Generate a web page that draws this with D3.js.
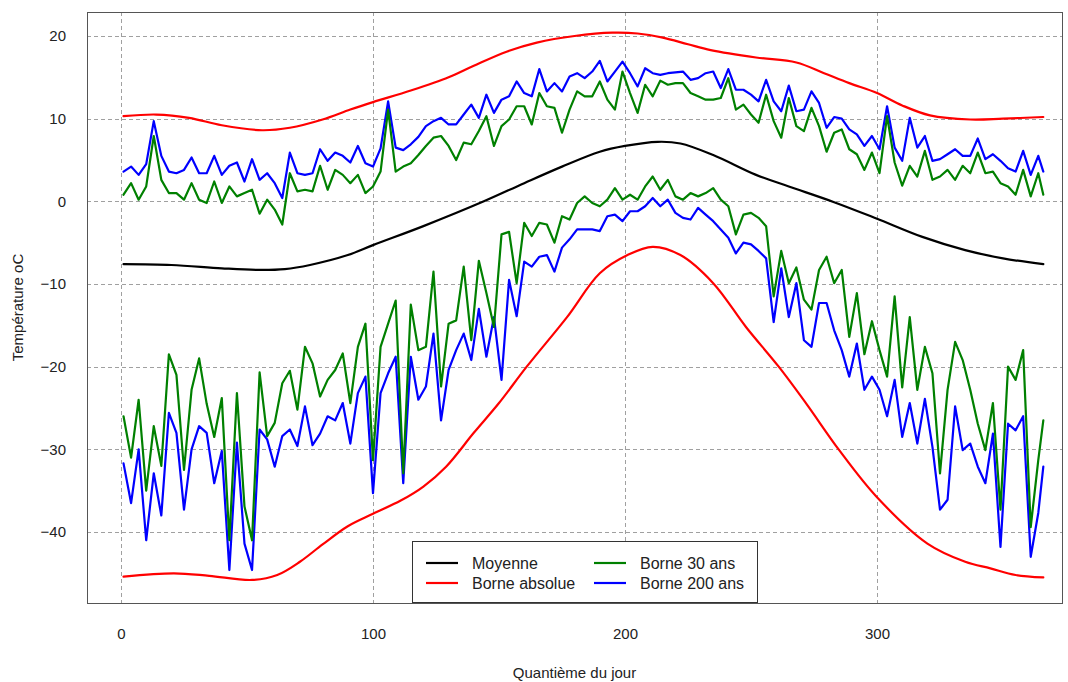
<!DOCTYPE html>
<html>
<head>
<meta charset="utf-8">
<script src="https://cdn.jsdelivr.net/npm/d3@7"></script>
<style>
  body { margin: 0; background: #fff; }
  text { font-family: "Liberation Sans", Arial, sans-serif; fill: #222; }
</style>
</head>
<body>
<svg id="chart" width="1068" height="682"></svg>
<script>
// Jours échantillonnés (tous les 3 jours) pour les bornes observées
const jours = d3.range(1, 365, 3).concat([366]);

// Borne 200 ans, maximum
const borne200Haut = [
  3.6, 4.2, 3.2, 4.5, 9.7, 5.5, 3.6, 3.4, 3.8, 5.3,
  3.4, 3.4, 5.5, 3.2, 4.3, 4.7, 2.4, 5.1, 2.6, 3.4,
  2.2, 0.4, 5.9, 3.4, 3.2, 3.4, 6.3, 4.9, 5.9, 5.5,
  4.7, 6.7, 4.6, 4.2, 6.4, 12.1, 6.5, 6.2, 6.9, 7.8,
  9.1, 9.7, 10.1, 9.3, 9.3, 10.5, 11.7, 10.1, 12.9, 10.7,
  12.3, 12.7, 14.5, 13.1, 12.7, 16.0, 13.3, 14.3, 13.3, 15.1,
  15.5, 14.9, 15.7, 17.0, 14.5, 15.7, 16.9, 15.5, 13.9, 16.1,
  15.5, 15.3, 15.5, 15.6, 15.7, 14.7, 14.9, 15.5, 15.7, 13.7,
  16.0, 13.5, 13.5, 12.9, 12.1, 14.7, 12.1, 10.9, 14.0, 10.9,
  11.1, 13.3, 11.9, 8.9, 10.2, 10.0, 8.7, 8.1, 6.7, 7.9,
  6.3, 11.5, 6.5, 4.9, 10.1, 6.5, 7.9, 4.9, 5.1, 5.7,
  6.3, 5.5, 5.5, 7.6, 5.1, 5.7, 4.9, 4.0, 3.6, 6.1,
  3.2, 5.5, 3.6
];

// Borne 30 ans, maximum
const borne30Haut = [
  0.8, 2.2, 0.2, 1.8, 7.9, 2.6, 1.0, 1.0, 0.2, 2.2,
  0.2, -0.2, 2.4, -0.2, 1.8, 0.6, 1.0, 1.4, -1.5, 0.2,
  -1.0, -2.8, 3.4, 1.2, 1.4, 1.2, 4.3, 1.4, 3.8, 3.2,
  2.2, 3.2, 1.0, 1.8, 3.6, 11.1, 3.6, 4.2, 4.6, 5.6,
  6.7, 7.7, 7.9, 6.7, 5.0, 7.1, 6.9, 8.5, 10.3, 6.7,
  9.1, 9.9, 11.5, 11.5, 9.3, 13.1, 11.5, 11.3, 8.3, 11.1,
  13.3, 12.7, 12.7, 14.5, 12.3, 11.1, 15.7, 13.1, 10.7, 14.1,
  12.7, 14.6, 14.1, 14.3, 14.3, 13.1, 12.7, 12.3, 12.3, 12.5,
  14.9, 11.1, 11.7, 10.5, 9.5, 12.9, 9.7, 7.7, 12.5, 9.1,
  8.5, 11.3, 9.1, 6.0, 8.3, 8.7, 6.3, 5.7, 3.8, 5.9,
  3.4, 10.3, 4.7, 1.9, 4.3, 3.0, 6.1, 2.6, 3.0, 3.8,
  2.6, 4.3, 3.4, 5.9, 3.4, 3.6, 2.2, 1.8, 0.8, 3.8,
  0.6, 3.4, 0.8
];

// Borne 30 ans, minimum
const borne30Bas = [
  -26.0, -31.0, -24.0, -35.0, -27.2, -32.0, -18.5, -21.0, -32.5, -22.8,
  -19.0, -24.5, -28.5, -23.8, -41.0, -23.2, -36.9, -41.0, -20.7, -28.4,
  -26.8, -22.0, -20.5, -25.2, -17.6, -19.6, -23.6, -21.6, -20.4, -18.4,
  -24.4, -17.6, -14.8, -31.3, -17.6, -14.8, -12.0, -32.9, -12.5, -18.0,
  -17.6, -8.5, -22.4, -14.8, -14.4, -7.9, -16.8, -7.2, -11.1, -15.2,
  -4.0, -3.7, -9.9, -2.6, -4.2, -2.6, -2.8, -5.0, -1.8, -2.2,
  -0.2, 0.6, -0.2, -0.6, 0.2, 1.6, 0.2, 0.8, 0.2, 1.8,
  3.0, 1.4, 2.6, 0.6, 0.2, 1.0, 0.6, 1.0, 1.6, 0.2,
  -0.6, -4.0, -1.6, -1.4, -2.0, -3.0, -11.5, -6.0, -9.9, -8.0,
  -11.9, -13.1, -8.3, -6.7, -9.9, -8.3, -16.4, -11.1, -18.5, -14.5,
  -18.0, -21.2, -11.5, -22.5, -14.0, -22.8, -17.6, -20.8, -32.9, -22.8,
  -17.0, -19.2, -22.8, -26.9, -30.1, -24.4, -37.3, -20.0, -21.6, -18.0,
  -39.4, -31.3, -26.5
];

// Borne 200 ans, minimum
const borne200Bas = [
  -31.7, -36.5, -30.0, -41.0, -32.9, -38.0, -25.6, -28.0, -37.3, -30.0,
  -27.2, -28.0, -34.1, -30.2, -44.6, -29.2, -41.4, -44.6, -27.6, -28.8,
  -32.1, -28.4, -27.6, -29.6, -24.8, -29.5, -28.1, -26.0, -26.5, -24.4,
  -29.3, -23.2, -21.2, -35.3, -23.2, -20.8, -18.8, -34.1, -18.8, -24.0,
  -22.4, -16.0, -26.5, -20.4, -18.0, -16.0, -19.2, -13.0, -18.8, -14.0,
  -21.6, -9.5, -13.9, -7.3, -7.9, -6.7, -6.5, -8.5, -5.6, -4.6,
  -3.4, -3.4, -3.4, -3.6, -1.8, -1.6, -2.4, -1.2, -1.2, -0.6,
  0.4, -0.6, 0.2, -1.4, -2.0, -2.2, -0.8, -1.6, -2.4, -3.4,
  -4.4, -6.3, -5.0, -5.2, -6.0, -6.9, -14.6, -8.1, -14.0, -9.9,
  -16.8, -17.6, -12.3, -12.3, -15.6, -18.0, -21.2, -17.2, -22.8, -21.2,
  -22.8, -26.0, -21.6, -28.5, -24.4, -29.3, -23.9, -29.7, -37.3, -36.1,
  -24.8, -30.1, -29.3, -32.1, -34.1, -28.1, -41.8, -26.9, -27.7, -26.0,
  -43.0, -37.7, -32.1
];

// Température moyenne (courbe lisse)
const joursMoyenne = [1, 20, 40, 55, 65, 75, 90, 100, 120, 144, 160, 175, 190, 200, 213, 222, 235, 252, 265, 283, 300, 318, 335, 350, 366];
const moyenne = [-7.6, -7.7, -8.1, -8.3, -8.2, -7.7, -6.5, -5.3, -3.0, 0.0, 2.2, 4.2, 6.0, 6.7, 7.2, 7.0, 5.6, 3.2, 1.8, -0.1, -2.1, -4.3, -5.9, -6.9, -7.6];

// Bornes absolues (courbes lisses)
const joursAbsHaut = [1, 14, 27, 40, 56, 67, 80, 91, 100, 115, 130, 140, 153, 165, 180, 195, 205, 215, 225, 234, 252, 268, 279, 289, 300, 310, 321, 337, 350, 366];
const absHaut = [10.3, 10.5, 10.1, 9.2, 8.6, 8.9, 9.9, 11.1, 12.0, 13.4, 15.0, 16.4, 18.1, 19.2, 20.0, 20.4, 20.3, 19.8, 19.0, 18.3, 17.4, 16.8, 15.5, 14.3, 13.1, 11.6, 10.4, 9.9, 10.0, 10.2];
const joursAbsBas = [1, 21, 35, 52, 62, 71, 80, 90, 100, 111, 120, 129, 140, 150, 161, 177, 190, 201, 211, 222, 235, 248, 261, 272, 285, 300, 320, 335, 345, 355, 366];
const absBas = [-45.4, -45.0, -45.3, -45.8, -45.2, -43.6, -41.5, -39.3, -37.8, -36.2, -34.5, -32.1, -28.0, -24.4, -20.0, -14.0, -8.7, -6.5, -5.5, -6.5, -9.9, -15.2, -20.0, -24.5, -30.1, -35.8, -41.4, -43.6, -44.4, -45.2, -45.5];

const xTicks = [0, 100, 200, 300];
const yTicks = [-40, -30, -20, -10, 0, 10, 20];
const legendeNoms = ["Moyenne", "Borne absolue", "Borne 30 ans", "Borne 200 ans"];
const legendeCouleurs = ["#000000", "#ff0000", "#008000", "#0000ff"];

// Mise en page
const box = { left: 87, right: 1062, top: 12, bottom: 603 };
const x = d3.scaleLinear().domain([0, 300]).range([121, 877]);
const y = d3.scaleLinear().domain([-40, 20]).range([532, 36]);

const svg = d3.select("#chart");
svg.append("rect").attr("width", 1068).attr("height", 682).attr("fill", "#fff");

svg.append("defs").append("clipPath").attr("id", "zone")
  .append("rect")
  .attr("x", box.left).attr("y", box.top)
  .attr("width", box.right - box.left).attr("height", box.bottom - box.top);

// Grille pointillée
const grille = svg.append("g").attr("stroke", "#a0a0a0").attr("stroke-width", 1).attr("stroke-dasharray", "4,3");
grille.selectAll("line.v").data(xTicks).join("line").attr("class", "v")
  .attr("x1", d => x(d) + 0.5).attr("x2", d => x(d) + 0.5)
  .attr("y1", box.top).attr("y2", box.bottom);
grille.selectAll("line.h").data(yTicks).join("line").attr("class", "h")
  .attr("y1", d => Math.round(y(d)) + 0.5).attr("y2", d => Math.round(y(d)) + 0.5)
  .attr("x1", box.left).attr("x2", box.right);

// Courbes
const ligne = (js) => d3.line().x((d, i) => x(js[i])).y(d => y(d));
const lisse = (js) => d3.line().curve(d3.curveCatmullRom.alpha(0.5)).x((d, i) => x(js[i])).y(d => y(d));

const courbes = svg.append("g").attr("clip-path", "url(#zone)")
  .attr("fill", "none").attr("stroke-width", 2.2).attr("stroke-linejoin", "round").attr("stroke-linecap", "round");

courbes.append("path").attr("d", lisse(joursMoyenne)(moyenne)).attr("stroke", legendeCouleurs[0]);
courbes.append("path").attr("d", lisse(joursAbsHaut)(absHaut)).attr("stroke", legendeCouleurs[1]);
courbes.append("path").attr("d", lisse(joursAbsBas)(absBas)).attr("stroke", legendeCouleurs[1]);
courbes.append("path").attr("d", ligne(jours)(borne200Haut)).attr("stroke", legendeCouleurs[3]);
courbes.append("path").attr("d", ligne(jours)(borne200Bas)).attr("stroke", legendeCouleurs[3]);
courbes.append("path").attr("d", ligne(jours)(borne30Haut)).attr("stroke", legendeCouleurs[2]);
courbes.append("path").attr("d", ligne(jours)(borne30Bas)).attr("stroke", legendeCouleurs[2]);

// Cadre
svg.append("rect")
  .attr("x", box.left + 0.5).attr("y", box.top + 0.5)
  .attr("width", box.right - box.left).attr("height", box.bottom - box.top)
  .attr("fill", "none").attr("stroke", "#555").attr("stroke-width", 1);

// Axes
const axeX = svg.append("g").attr("transform", `translate(0,${box.bottom})`)
  .call(d3.axisBottom(x).tickValues(xTicks).tickSize(0).tickPadding(25));
axeX.select(".domain").remove();
axeX.selectAll("text").attr("font-size", 15);
axeX.attr("font-family", null);

const axeY = svg.append("g").attr("transform", `translate(${box.left},0)`)
  .call(d3.axisLeft(y).tickValues(yTicks).tickSize(0).tickPadding(21));
axeY.select(".domain").remove();
axeY.selectAll("text").attr("font-size", 15);
axeY.attr("font-family", null);

// Titres
svg.append("text").attr("x", (box.left + box.right) / 2).attr("y", 678)
  .attr("text-anchor", "middle").attr("font-size", 15).text("Quantième du jour");
svg.append("text").attr("transform", `translate(23,${(box.top + box.bottom) / 2}) rotate(-90)`)
  .attr("text-anchor", "middle").attr("font-size", 15).text("Température oC");

// Légende
const leg = svg.append("g");
leg.append("rect").attr("x", 412.5).attr("y", 541.5).attr("width", 345).attr("height", 61)
  .attr("fill", "#fff").attr("stroke", "#333").attr("stroke-width", 1);
const positions = [[426, 563], [426, 583], [594, 563], [594, 583]];
legendeNoms.forEach((nom, i) => {
  const [lx, ly] = positions[i];
  leg.append("line").attr("x1", lx).attr("x2", lx + 32).attr("y1", ly).attr("y2", ly)
    .attr("stroke", legendeCouleurs[i]).attr("stroke-width", 2.2);
  leg.append("text").attr("x", lx + 46).attr("y", ly).attr("dy", "0.35em")
    .attr("font-size", 16).text(nom);
});
</script>
</body>
</html>
